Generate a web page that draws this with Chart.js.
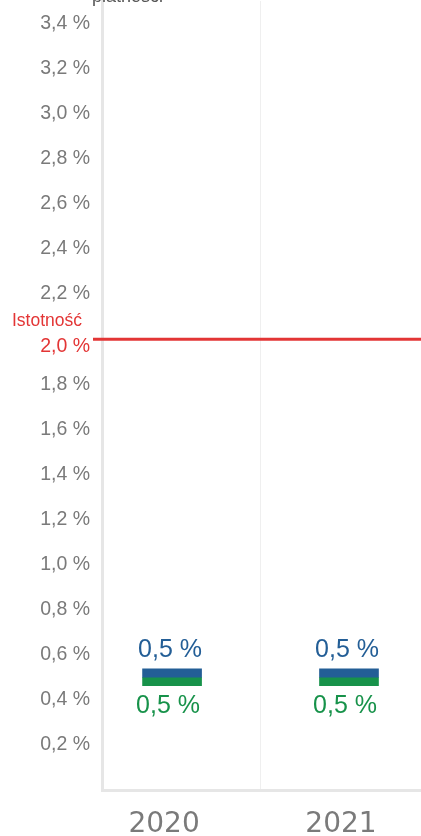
<!DOCTYPE html>
<html lang="pl">
<head>
<meta charset="utf-8">
<title>Istotność</title>
<script src="https://cdn.jsdelivr.net/npm/chart.js@4/dist/chart.umd.min.js"></script>
<style>
  html, body { margin: 0; padding: 0; background: #ffffff; overflow: hidden; }
  canvas { display: block; }
</style>
</head>
<body>
<canvas id="chart" width="421" height="836"></canvas>
<script>
// Chart data
const YEARS = [2020, 2021];
const SERIES_BLUE = [0.5, 0.5];
const SERIES_GREEN = [0.5, 0.5];
const Y_TICKS = [0.2, 0.4, 0.6, 0.8, 1.0, 1.2, 1.4, 1.6, 1.8, 2.0, 2.2, 2.4, 2.6, 2.8, 3.0, 3.2, 3.4];
const THRESHOLD = 2.0;
const THRESHOLD_LABEL = 'Istotność';
const AXIS_TITLE = 'płatności';

// Styles
const BLUE = '#235e96';
const GREEN = '#17924a';
const RED = '#e33535';
const GREY_TEXT = '#7a7a7a';
const AXIS_LINE = '#e6e6e6';
const MARK = 0.037; // half height of the value marker, in axis units

function pct(v) {
    return v.toFixed(1).replace('.', ',') + ' %';
}

// midpoints between years, used for the light divider lines
const dividers = [];
for (let i = 1; i < YEARS.length; i++) {
    dividers.push((YEARS[i - 1] + YEARS[i]) / 2);
}

// Threshold line, its labels and the value labels above / below the markers
const annotations = {
    id: 'annotations',
    afterDatasetsDraw(chart) {
        const { ctx, chartArea, scales: { y } } = chart;
        const ty = y.getPixelForValue(THRESHOLD);

        ctx.save();
        ctx.strokeStyle = RED;
        ctx.lineWidth = 3;
        ctx.beginPath();
        ctx.moveTo(chartArea.left - 9, ty);
        ctx.lineTo(chartArea.right, ty);
        ctx.stroke();

        ctx.fillStyle = RED;
        ctx.textAlign = 'right';
        ctx.textBaseline = 'middle';
        ctx.font = '17.5px "Liberation Sans", Arial, sans-serif';
        ctx.fillText(THRESHOLD_LABEL, 82, ty - 18);
        ctx.font = '19.5px "Liberation Sans", Arial, sans-serif';
        ctx.fillText(pct(THRESHOLD), 90, ty + 7);

        // cut-off axis title at the very top
        ctx.fillStyle = '#555555';
        ctx.textAlign = 'left';
        ctx.textBaseline = 'alphabetic';
        ctx.font = '18px "Liberation Sans", Arial, sans-serif';
        ctx.fillText(AXIS_TITLE, 92, 2);

        // value labels
        ctx.font = '25px "Liberation Sans", Arial, sans-serif';
        ctx.textAlign = 'center';
        chart.data.datasets.forEach((ds, i) => {
            const meta = chart.getDatasetMeta(i);
            meta.data.forEach((bar, j) => {
                const top = Math.min(bar.y, bar.base);
                const bottom = Math.max(bar.y, bar.base);
                ctx.fillStyle = ds.backgroundColor;
                if (ds.labelPos === 'above') {
                    ctx.fillText(pct(ds.values[j]), bar.x - 2, top - 12);
                } else {
                    ctx.fillText(pct(ds.values[j]), bar.x - 4, bottom + 27);
                }
            });
        });
        ctx.restore();
    }
};

const canvas = document.getElementById('chart');
new Chart(canvas, {
    type: 'bar',
    data: {
        datasets: [
            {
                label: 'Seria niebieska',
                data: YEARS.map((x, i) => ({ x: x, y: [SERIES_BLUE[i], SERIES_BLUE[i] + MARK] })),
                values: SERIES_BLUE,
                labelPos: 'above',
                backgroundColor: BLUE
            },
            {
                label: 'Seria zielona',
                data: YEARS.map((x, i) => ({ x: x, y: [SERIES_GREEN[i] - MARK, SERIES_GREEN[i]] })),
                values: SERIES_GREEN,
                labelPos: 'below',
                backgroundColor: GREEN
            }
        ]
    },
    options: {
        responsive: false,
        devicePixelRatio: 1,
        animation: false,
        layout: { padding: { top: 1, right: 0, bottom: 0, left: 0 } },
        datasets: {
            bar: { barThickness: 59, grouped: false, borderWidth: 0 }
        },
        plugins: {
            legend: { display: false },
            tooltip: { enabled: false }
        },
        scales: {
            x: {
                type: 'linear',
                offset: false,
                min: YEARS[0] - 0.396,
                max: YEARS[YEARS.length - 1] + 0.407,
                afterBuildTicks: scale => {
                    scale.ticks = YEARS.concat(dividers).sort().map(v => ({ value: v }));
                },
                afterFit: scale => {
                    scale.height = 46;
                    scale.paddingLeft = 0;
                    scale.paddingRight = 0;
                },
                grid: {
                    offset: false,
                    drawTicks: false,
                    color: ctx => (ctx.tick && dividers.includes(ctx.tick.value)) ? '#efefef' : 'rgba(0,0,0,0)',
                    lineWidth: 1
                },
                border: { display: true, color: AXIS_LINE, width: 3 },
                ticks: {
                    autoSkip: false,
                    maxRotation: 0,
                    padding: 18,
                    labelOffset: -8,
                    color: GREY_TEXT,
                    font: { family: '"DejaVu Sans", sans-serif', size: 28 },
                    callback: value => YEARS.includes(value) ? String(value) : ''
                }
            },
            y: {
                min: 0,
                max: 3.5,
                afterBuildTicks: scale => {
                    scale.ticks = Y_TICKS.map(v => ({ value: v }));
                },
                afterFit: scale => {
                    scale.width = 102;
                    scale.paddingTop = 0;
                    scale.paddingBottom = 0;
                },
                grid: { drawTicks: false, color: 'rgba(0,0,0,0)' },
                border: { display: true, color: AXIS_LINE, width: 3 },
                ticks: {
                    padding: 12,
                    color: GREY_TEXT,
                    font: { family: '"Liberation Sans", Arial, sans-serif', size: 19.5 },
                    callback: value => Math.abs(value - THRESHOLD) < 1e-9 ? '' : pct(value)
                }
            }
        }
    },
    plugins: [annotations]
});
</script>
</body>
</html>
